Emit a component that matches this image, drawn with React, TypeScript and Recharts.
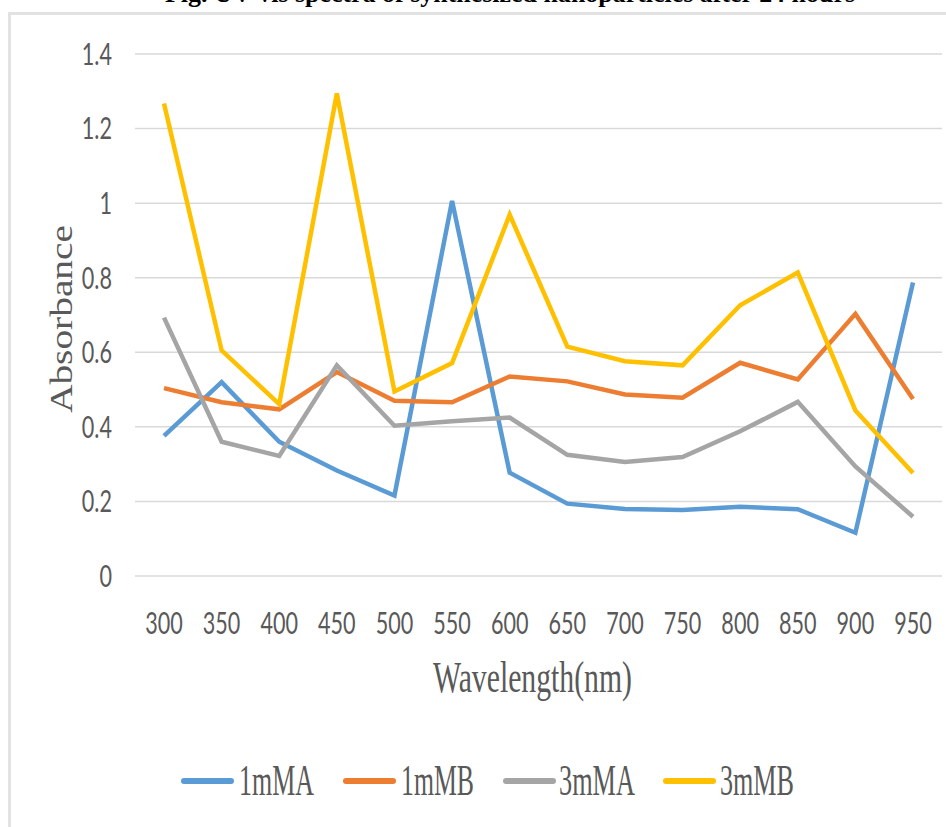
import { LineChart, Line, XAxis, YAxis, CartesianGrid } from "recharts";

const WAVELENGTHS = [300, 350, 400, 450, 500, 550, 600, 650, 700, 750, 800, 850, 900, 950];
const MMA1 = [0.376, 0.52, 0.36, 0.283, 0.216, 1.006, 0.277, 0.194, 0.18, 0.177, 0.186, 0.179, 0.116, 0.787];
const MMB1 = [0.504, 0.466, 0.447, 0.547, 0.47, 0.466, 0.535, 0.522, 0.487, 0.478, 0.572, 0.527, 0.703, 0.475];
const MMA3 = [0.693, 0.36, 0.322, 0.565, 0.403, 0.415, 0.425, 0.325, 0.306, 0.319, 0.388, 0.467, 0.294, 0.159];
const MMB3 = [1.267, 0.605, 0.461, 1.294, 0.495, 0.571, 0.969, 0.615, 0.576, 0.565, 0.726, 0.814, 0.444, 0.276];
const Y_TICKS = [0, 0.2, 0.4, 0.6, 0.8, 1, 1.2, 1.4];

const SERIES = [
  { key: "1mMA", color: "#5B9BD5" },
  { key: "1mMB", color: "#ED7D31" },
  { key: "3mMA", color: "#A5A5A5" },
  { key: "3mMB", color: "#FFC000" },
];

const data = WAVELENGTHS.map((wl, i) => ({
  wl,
  "1mMA": MMA1[i],
  "1mMB": MMB1[i],
  "3mMA": MMA3[i],
  "3mMB": MMB3[i],
}));

const TICK_FONT = "Lato, 'Liberation Sans', sans-serif";
const SERIF = "'Liberation Serif', 'Times New Roman', serif";

const XTick = (props: any) => {
  const { x, y, payload } = props;
  return (
    <text
      transform={`translate(${x},${y}) scale(0.72,1)`}
      textAnchor="middle"
      dy="0.36em"
      fontSize={30}
      fill="#595959"
      fontFamily={TICK_FONT}
    >
      {payload.value}
    </text>
  );
};

const YTick = (props: any) => {
  const { x, y, payload } = props;
  return (
    <text
      transform={`translate(${x},${y}) scale(0.72,1)`}
      textAnchor="end"
      dy="0.36em"
      fontSize={30}
      fill="#595959"
      fontFamily={TICK_FONT}
    >
      {String(payload.value)}
    </text>
  );
};

// legend layout: line start, text start, text width
const LEGEND_POS = [
  { lx: 181, tx: 239, tw: 75 },
  { lx: 343, tx: 401, tw: 73 },
  { lx: 503, tx: 559, tw: 76 },
  { lx: 663, tx: 720, tw: 74 },
];

export default function App() {
  return (
    <div style={{ position: "absolute", left: 0, top: 0, width: 946, height: 827, background: "#fff", overflow: "hidden" }}>
      <div
        style={{
          position: "absolute",
          left: 8,
          top: 12,
          width: 960,
          height: 840,
          borderTop: "3px solid #e2e2e2",
          borderLeft: "3px solid #e2e2e2",
        }}
      />
      <div style={{ position: "absolute", left: 0, top: 0 }}>
        <LineChart width={946} height={827} data={data} margin={{ top: 54, right: 4, left: 0, bottom: 221 }}>
          <CartesianGrid vertical={false} stroke="#d9d9d9" strokeWidth={1.5} />
          <XAxis
            dataKey="wl"
            height={30}
            axisLine={false}
            tickLine={false}
            tickSize={0}
            tickMargin={47}
            interval={0}
            padding={{ left: 29, right: 29 }}
            tick={<XTick />}
          />
          <YAxis
            width={135}
            domain={[0, 1.4]}
            ticks={Y_TICKS}
            axisLine={false}
            tickLine={false}
            tickSize={0}
            tickMargin={23}
            tick={<YTick />}
          />
          {SERIES.map((s) => (
            <Line
              key={s.key}
              type="linear"
              dataKey={s.key}
              stroke={s.color}
              strokeWidth={4.5}
              dot={false}
              isAnimationActive={false}
            />
          ))}
        </LineChart>
      </div>
      <svg width={946} height={827} style={{ position: "absolute", left: 0, top: 0, pointerEvents: "none" }}>
        <text
          x={165}
          y={2}
          fontSize={25}
          fontWeight="bold"
          fontFamily={SERIF}
          textLength={690}
          lengthAdjust="spacingAndGlyphs"
        >
          Fig. UV-vis spectra of synthesized nanoparticles after 24 hours
        </text>
        <text
          transform="translate(72,319) rotate(-90)"
          textAnchor="middle"
          fontSize={32}
          fill="#595959"
          fontFamily={SERIF}
          textLength={188}
          lengthAdjust="spacingAndGlyphs"
        >
          Absorbance
        </text>
        <text
          x={433}
          y={692}
          fontSize={44}
          fill="#595959"
          fontFamily={SERIF}
          textLength={199}
          lengthAdjust="spacingAndGlyphs"
        >
          Wavelength(nm)
        </text>
        {SERIES.map((s, i) => (
          <g key={s.key}>
            <line
              x1={LEGEND_POS[i].lx + 3}
              x2={LEGEND_POS[i].lx + 50}
              y1={781}
              y2={781}
              stroke={s.color}
              strokeWidth={6}
              strokeLinecap="round"
            />
            <text
              x={LEGEND_POS[i].tx}
              y={795}
              fontSize={44}
              fill="#595959"
              fontFamily={SERIF}
              textLength={LEGEND_POS[i].tw}
              lengthAdjust="spacingAndGlyphs"
            >
              {s.key}
            </text>
          </g>
        ))}
      </svg>
    </div>
  );
}
